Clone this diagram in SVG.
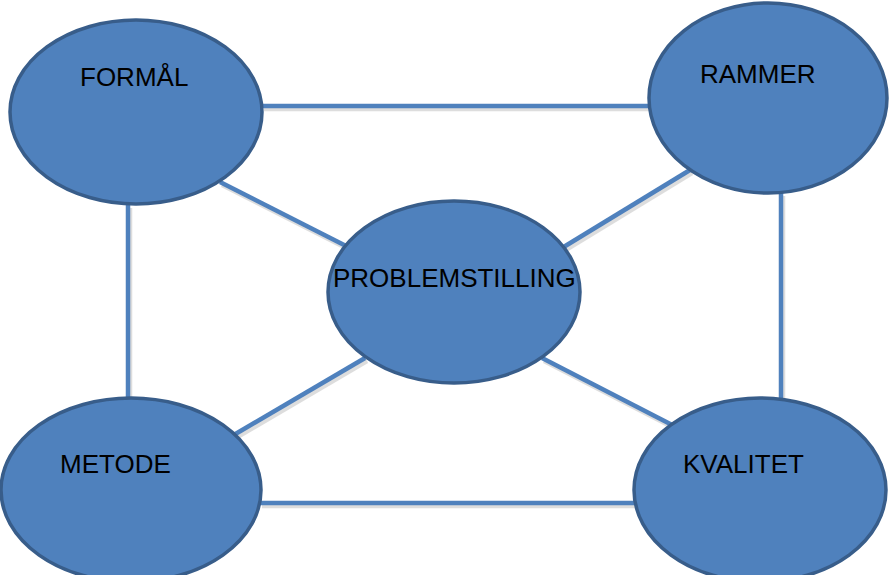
<svg xmlns="http://www.w3.org/2000/svg" width="891" height="575" viewBox="0 0 891 575">
<style>
.node ellipse{fill:#4f81bd;stroke:#385d8a;stroke-width:3.5}
.node text{font-family:"Liberation Sans",Arial,sans-serif;font-size:26px;fill:#000}
.conn line{stroke:#4f81bd;stroke-width:4.5}
.shadow line{stroke:#c8c8c8;stroke-width:4.5;opacity:0.6}
</style>
<rect width="891" height="575" fill="#fff"/>
<g id="shadows" class="shadow" transform="translate(2,3)">
<line x1="262" y1="106" x2="650" y2="106"/>
<line x1="128" y1="205" x2="128" y2="398"/>
<line x1="781" y1="193" x2="781" y2="398"/>
<line x1="260" y1="503" x2="636" y2="503"/>
<line x1="220" y1="182" x2="350" y2="248"/>
<line x1="690" y1="170" x2="562" y2="248"/>
<line x1="365" y1="358" x2="232" y2="436"/>
<line x1="542" y1="358" x2="678" y2="428"/>
</g>
<g id="connectors" class="conn">
<line x1="262" y1="106" x2="650" y2="106"/>
<line x1="128" y1="205" x2="128" y2="398"/>
<line x1="781" y1="193" x2="781" y2="398"/>
<line x1="260" y1="503" x2="636" y2="503"/>
<line x1="220" y1="182" x2="350" y2="248"/>
<line x1="690" y1="170" x2="562" y2="248"/>
<line x1="365" y1="358" x2="232" y2="436"/>
<line x1="542" y1="358" x2="678" y2="428"/>
</g>
<g id="formal" class="node">
<ellipse cx="136" cy="112" rx="126" ry="92"/>
<text x="80" y="86">FORMÅL</text>
</g>
<g id="rammer" class="node">
<ellipse cx="768" cy="98" rx="119" ry="95"/>
<text x="700" y="83">RAMMER</text>
</g>
<g id="problemstilling" class="node">
<ellipse cx="454" cy="292" rx="126" ry="91"/>
<text x="333" y="287">PROBLEMSTILLING</text>
</g>
<g id="metode" class="node">
<ellipse cx="131" cy="490" rx="130" ry="92"/>
<text x="60" y="473">METODE</text>
</g>
<g id="kvalitet" class="node">
<ellipse cx="760" cy="490" rx="126" ry="92"/>
<text x="683" y="473">KVALITET</text>
</g>
</svg>
